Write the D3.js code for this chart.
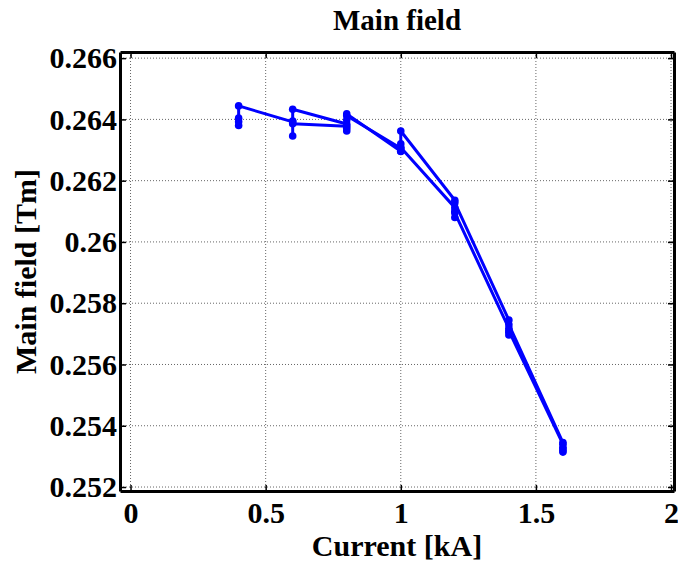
<!DOCTYPE html>
<html>
<head>
<meta charset="utf-8">
<script src="https://cdn.jsdelivr.net/npm/d3@7"></script>
<style>
  body { margin: 0; background: #fff; }
  text { font-family: "Liberation Serif", "Times New Roman", serif; font-weight: bold; }
</style>
</head>
<body>
<div id="container"></div>
<script>
var width = 678,
    height = 561;

// two acquisition runs, several samples per current step
var runA_I = [0.4, 0.4, 0.4, 0.4, 0.6, 0.6, 0.6, 0.8, 0.8, 0.8, 0.8, 1.0, 1.0, 1.0, 1.2, 1.2, 1.2, 1.4, 1.4, 1.4, 1.6, 1.6, 1.6];
var runA_B = [0.26380, 0.26392, 0.26404, 0.26444, 0.26392, 0.26346, 0.26386, 0.26378, 0.26362, 0.26370, 0.26418, 0.26296, 0.26320, 0.26362, 0.26136, 0.26100, 0.26128, 0.25745, 0.25705, 0.25730, 0.25345, 0.25318, 0.25330];
var runB_I = [0.6, 0.6, 0.8, 0.8, 0.8, 1.0, 1.0, 1.0, 1.2, 1.2, 1.2, 1.4, 1.4, 1.4, 1.6, 1.6, 1.6];
var runB_B = [0.26395, 0.26433, 0.26385, 0.26398, 0.26412, 0.26306, 0.26295, 0.26308, 0.26112, 0.26080, 0.26095, 0.25718, 0.25696, 0.25710, 0.25340, 0.25314, 0.25325];

var xTicks = [0, 0.5, 1, 1.5, 2];
var xTickLabels = ["0", "0.5", "1", "1.5", "2"];
var yTicks = [0.252, 0.254, 0.256, 0.258, 0.26, 0.262, 0.264, 0.266];
var yTickLabels = ["0.252", "0.254", "0.256", "0.258", "0.26", "0.262", "0.264", "0.266"];

var margin = {left: 120, right: 4, top: 52, bottom: 70};
var pw = width - margin.left - margin.right,
    ph = height - margin.top - margin.bottom;

var x = d3.scaleLinear().domain([-0.039, 2.011]).range([0, pw]);
var y = d3.scaleLinear().domain([0.25187, 0.26620]).range([ph, 0]);

var svg = d3.select("#container").append("svg")
    .attr("width", width)
    .attr("height", height);

var g = svg.append("g")
    .attr("transform", "translate(" + margin.left + "," + margin.top + ")");

// grid
g.selectAll(".xgrid").data(xTicks).enter().append("line")
    .attr("x1", d => x(d)).attr("x2", d => x(d))
    .attr("y1", 0).attr("y2", ph)
    .attr("stroke", "#666").attr("stroke-width", 1)
    .attr("stroke-dasharray", "1,2");
g.selectAll(".ygrid").data(yTicks).enter().append("line")
    .attr("y1", d => y(d)).attr("y2", d => y(d))
    .attr("x1", 0).attr("x2", pw)
    .attr("stroke", "#666").attr("stroke-width", 1)
    .attr("stroke-dasharray", "1,2");

// data
var line = d3.line().x(d => x(d[0])).y(d => y(d[1]));
var runs = [d3.zip(runA_I, runA_B), d3.zip(runB_I, runB_B)];

runs.forEach(function(pts) {
    g.append("path")
        .datum(pts)
        .attr("d", line)
        .attr("fill", "none")
        .attr("stroke", "#0000ff")
        .attr("stroke-width", 3)
        .attr("stroke-linejoin", "round");
    g.selectAll(null).data(pts).enter().append("circle")
        .attr("cx", d => x(d[0]))
        .attr("cy", d => y(d[1]))
        .attr("r", 3.8)
        .attr("fill", "#0000ff");
});

// axes, MATLAB style box with inward ticks
var tickLen = 6;
var xb = g.append("g").attr("transform", "translate(0," + ph + ")")
    .call(d3.axisBottom(x).tickValues(xTicks).tickSizeInner(-tickLen).tickSizeOuter(0)
        .tickFormat((d, i) => xTickLabels[i]).tickPadding(11));
var xt = g.append("g")
    .call(d3.axisTop(x).tickValues(xTicks).tickSizeInner(-tickLen).tickSizeOuter(0).tickFormat(""));
var yl = g.append("g")
    .call(d3.axisLeft(y).tickValues(yTicks).tickSizeInner(-tickLen).tickSizeOuter(0)
        .tickFormat((d, i) => yTickLabels[i]).tickPadding(3));
var yr = g.append("g").attr("transform", "translate(" + pw + ",0)")
    .call(d3.axisRight(y).tickValues(yTicks).tickSizeInner(-tickLen).tickSizeOuter(0).tickFormat(""));

[xb, xt, yl, yr].forEach(function(a) {
    a.select(".domain").attr("stroke", "#000").attr("stroke-width", 3);
    a.selectAll(".tick line").attr("stroke", "#000").attr("stroke-width", 1.5);
    a.selectAll("text").attr("fill", "#000").style("font-size", "30px")
        .style("font-family", "'Liberation Serif', serif").style("font-weight", "bold");
});

svg.append("text")
    .attr("x", margin.left + pw / 2).attr("y", 30)
    .attr("text-anchor", "middle")
    .style("font-size", "29px")
    .text("Main field");

svg.append("text")
    .attr("x", margin.left + pw / 2).attr("y", 556)
    .attr("text-anchor", "middle")
    .style("font-size", "30px")
    .text("Current [kA]");

svg.append("text")
    .attr("transform", "translate(36," + (margin.top + ph / 2) + ") rotate(-90)")
    .attr("text-anchor", "middle")
    .style("font-size", "30px")
    .text("Main field [Tm]");
</script>
</body>
</html>
